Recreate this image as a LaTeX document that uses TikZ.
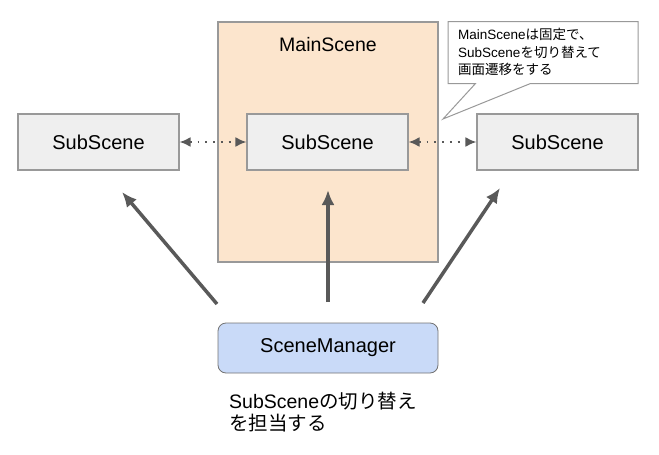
\documentclass[tikz,border=0pt]{standalone}
\usepackage{fontspec}
\setmainfont{Liberation Sans}
\newfontfamily\jp{Noto Sans CJK JP}
\usetikzlibrary{arrows.meta, shapes.callouts}
\definecolor{boxgray}{HTML}{EFEFEF}
\definecolor{linegray}{HTML}{595959}
\definecolor{edgegray}{HTML}{999999}
\definecolor{peach}{HTML}{FCE5CD}
\definecolor{lightblue}{HTML}{C9DAF8}
\tikzset{>={Latex[length=15pt, width=13pt]}}

\begin{document}
\begin{tikzpicture}[x = 1pt, y = -1pt]

\useasboundingbox (0, 0) rectangle (659, 455);

\node[rectangle, draw = edgegray, line width = 1.2pt, fill = peach, inner sep = 0pt, minimum width = 220pt, minimum height = 240pt] (main) at (328, 142) {};
\node[font = \fontsize{19.5}{22}\selectfont] (mainlabel) at (328, 45) {MainScene};

\node[rectangle, draw = edgegray, line width = 1.2pt, fill = boxgray, inner sep = 0pt, minimum width = 161pt, minimum height = 56pt, font = \fontsize{20}{22}\selectfont] (subl) at (98.5, 142) {SubScene};
\node[rectangle, draw = edgegray, line width = 1.2pt, fill = boxgray, inner sep = 0pt, minimum width = 161pt, minimum height = 56pt, font = \fontsize{20}{22}\selectfont] (subm) at (327.5, 142) {SubScene};
\node[rectangle, draw = edgegray, line width = 1.2pt, fill = boxgray, inner sep = 0pt, minimum width = 161pt, minimum height = 56pt, font = \fontsize{20}{22}\selectfont] (subr) at (557.5, 142) {SubScene};

\node[rectangle, rounded corners = 8pt, draw = gray!90!black, line width = 0.8pt, fill = lightblue, inner sep = 0pt, minimum width = 220pt, minimum height = 50pt, font = \fontsize{20}{22}\selectfont] (mgr) at (328, 348) {SceneManager};

\node[rectangle callout, draw = edgegray, line width = 1pt, fill = white, inner sep = 0pt, minimum width = 190pt, minimum height = 62pt, callout absolute pointer = {(443, 119)}, callout pointer width = 55pt] (note) at (543, 52.5) {};
\node[anchor = north west, align = left, inner sep = 0pt, font = \fontsize{13.5}{17.5}\selectfont] (notetext) at (458, 28) {MainScene{\jp は固定で、}\\SubScene{\jp を切り替えて}\\{\jp 画面遷移をする}};

\node[anchor = north west, align = left, inner sep = 0pt, font = \fontsize{19.5}{22}\selectfont] (caption) at (229, 392) {SubScene{\jp の切り替え}\\{\jp を担当する}};

\coordinate (pl) at (217, 304);
\coordinate (pm) at (328, 302);
\coordinate (pr) at (423, 303);
\coordinate (tl) at (122, 192);
\coordinate (tm) at (328, 190);
\coordinate (tr) at (500, 188);

\foreach \a/\b in {pl/tl, pm/tm, pr/tr}{\path [draw, ->, linegray, line width = 3.5pt] (\a) -- (\b);}

\path [draw, <->, >={Latex[length=11pt, width=10pt]}, linegray, line width = 1.8pt, dash pattern = on 1.8pt off 6pt] (subl) -- (subm);
\path [draw, <->, >={Latex[length=11pt, width=10pt]}, linegray, line width = 1.8pt, dash pattern = on 1.8pt off 6pt] (subm) -- (subr);

\end{tikzpicture}
\end{document}
